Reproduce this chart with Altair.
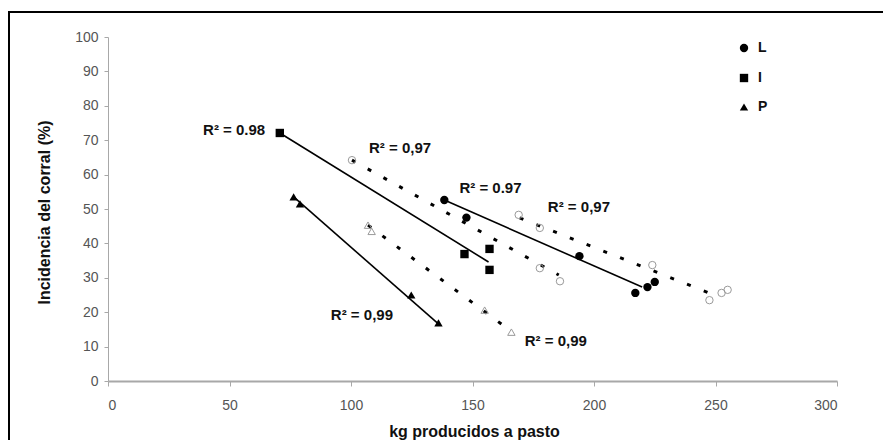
import altair as alt
import pandas as pd

# ---- data ----
series = ["L", "I", "P"]

# filled markers (one group)
L_x = [138.4, 147.5, 194.0, 217.0, 222.0, 225.0]
L_y = [52.6, 47.5, 36.3, 25.6, 27.3, 28.8]
I_x = [70.7, 146.7, 157.0, 157.0]
I_y = [72.1, 36.9, 38.4, 32.3]
P_x = [76.4, 79.0, 124.8, 136.0]
P_y = [53.5, 51.5, 25.0, 16.9]

# hollow markers (second group)
HL_x = [169.0, 177.7, 224.0, 247.5, 252.5, 255.0]
HL_y = [48.3, 44.5, 33.7, 23.5, 25.6, 26.5]
HI_x = [100.4, 177.7, 186.0]
HI_y = [64.2, 32.8, 29.0]
HP_x = [107.0, 108.5, 155.0, 166.0]
HP_y = [45.3, 43.5, 20.6, 14.2]

# trend lines (start/end points)
trend_solid_series = ["L", "I", "P"]
trend_solid_x = [[138.4, 219.8], [70.7, 156.6], [76.4, 135.5]]
trend_solid_y = [[52.6, 27.3], [72.1, 34.6], [53.5, 16.9]]
trend_dot_series = ["HL", "HI", "HP"]
trend_dot_x = [[169.4, 252.0], [100.4, 185.5], [107.0, 166.0]]
trend_dot_y = [[47.4, 24.3], [64.2, 30.8], [45.3, 14.4]]

# R² annotations
lab_text = ["R² = 0.98", "R² = 0,97", "R² = 0.97", "R² = 0,97", "R² = 0,99", "R² = 0,99"]
lab_x = [51.9, 120.2, 157.4, 193.8, 104.5, 184.3]
lab_y = [73.0, 67.7, 56.1, 50.6, 19.2, 11.6]

x_ticks = [0, 50, 100, 150, 200, 250, 300]
y_ticks = [0, 10, 20, 30, 40, 50, 60, 70, 80, 90, 100]

# ---- tables ----
filled = pd.DataFrame(
    [{"s": "L", "x": a, "y": b} for a, b in zip(L_x, L_y)]
    + [{"s": "I", "x": a, "y": b} for a, b in zip(I_x, I_y)]
    + [{"s": "P", "x": a, "y": b} for a, b in zip(P_x, P_y)]
)
hollow = pd.DataFrame(
    [{"h": "HL", "x": a, "y": b} for a, b in zip(HL_x, HL_y)]
    + [{"h": "HI", "x": a, "y": b} for a, b in zip(HI_x, HI_y)]
    + [{"h": "HP", "x": a, "y": b} for a, b in zip(HP_x, HP_y)]
)
solid = pd.DataFrame(
    [{"s": s, "x": xx, "y": yy, "o": i}
     for s, xs, ys in zip(trend_solid_series, trend_solid_x, trend_solid_y)
     for i, (xx, yy) in enumerate(zip(xs, ys))]
)
dotted = pd.DataFrame(
    [{"s": s, "x": xx, "y": yy, "o": i}
     for s, xs, ys in zip(trend_dot_series, trend_dot_x, trend_dot_y)
     for i, (xx, yy) in enumerate(zip(xs, ys))]
)
labels = pd.DataFrame({"t": lab_text, "x": lab_x, "y": lab_y})

X = alt.X(
    "x:Q",
    scale=alt.Scale(domain=[0, 300], nice=False),
    axis=alt.Axis(
        values=x_ticks, title="kg producidos a pasto", grid=False,
        tickSize=5, labelPadding=12, domainWidth=2, domainColor="#a8a8a8",
        tickColor="#a8a8a8", labelColor="#555555", labelFontSize=14,
        titleFontSize=16, titleFontWeight="bold", titleColor="#111111",
        titleX=366, titleY=50, titleBaseline="middle", titleAlign="center",
    ),
)
Y = alt.Y(
    "y:Q",
    scale=alt.Scale(domain=[0, 100], nice=False),
    axis=alt.Axis(
        values=y_ticks, title="Incidencia del corral (%)", grid=False,
        tickSize=4, labelPadding=6, domainWidth=1, domainColor="#a8a8a8",
        tickColor="#a8a8a8", labelColor="#555555", labelFontSize=14,
        titleFontSize=16, titleFontWeight="bold", titleColor="#111111",
        titleX=-64, titleY=175, titleAngle=270, titleBaseline="middle",
        titleAlign="center",
    ),
)

frame = alt.Chart(pd.DataFrame({"a": [0]})).mark_rect(
    filled=False, stroke="black", strokeWidth=2
).encode(
    x=alt.value(-99), x2=alt.value(900), y=alt.value(-25), y2=alt.value(600)
)

dot_lines = alt.Chart(dotted).mark_line(
    color="black", strokeWidth=3, strokeDash=[4, 14]
).encode(x=X, y=Y, detail="s:N", order="o:Q")

solid_lines = alt.Chart(solid).mark_line(
    color="black", strokeWidth=1.6
).encode(x=X, y=Y, detail="s:N", order="o:Q")

hollow_pts = alt.Chart(hollow).mark_point(
    filled=False, color="#9a9a9a", strokeWidth=1, size=55, opacity=1
).encode(
    x=X, y=Y,
    shape=alt.Shape("h:N", scale=alt.Scale(domain=["HL", "HI", "HP"],
                    range=["circle", "circle", "triangle-up"]), legend=None),
)

filled_pts = alt.Chart(filled).mark_point(
    filled=True, color="black", size=70, opacity=1
).encode(
    x=X, y=Y,
    shape=alt.Shape("s:N", scale=alt.Scale(domain=series,
                    range=["circle", "square", "triangle-up"]),
                    legend=alt.Legend(title=None)),
)

texts = alt.Chart(labels).mark_text(
    fontSize=15, fontWeight="bold", color="#111111", align="center",
    baseline="middle", font="Liberation Sans"
).encode(x=X, y=Y, text="t:N")

chart = alt.layer(
    frame, dot_lines, solid_lines, hollow_pts, filled_pts, texts
).resolve_scale(shape="independent").properties(
    width=729, height=344,
    autosize=alt.AutoSizeParams(type="none"),
    padding={"left": 100, "top": 29, "right": 46, "bottom": 59},
).configure(font="Liberation Sans").configure_view(strokeWidth=0).configure_legend(
    orient="none", legendX=629, legendY=4, labelFontSize=14,
    labelFontWeight="bold", labelColor="#111111", rowPadding=14,
    labelOffset=7, symbolSize=70,
)

chart.save("out.html", embed_options={"renderer": "svg", "actions": False})
